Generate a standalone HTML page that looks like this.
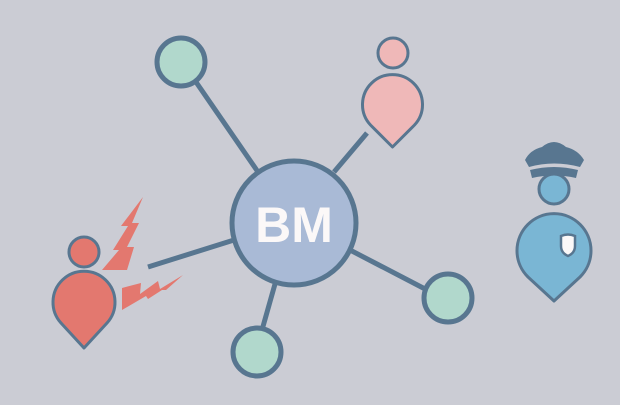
<!DOCTYPE html>
<html><head><style>html,body{margin:0;padding:0;background:#cbccd4;}svg{display:block}</style></head>
<body>
<svg width="620" height="405" viewBox="0 0 620 405" xmlns="http://www.w3.org/2000/svg">
<rect width="620" height="405" fill="#cbccd4"/>
<g stroke="#587690" stroke-width="5" stroke-linecap="butt">
<line x1="196" y1="82" x2="258" y2="172"/>
<line x1="334" y1="172" x2="367" y2="133"/>
<line x1="350" y1="250" x2="427" y2="290"/>
<line x1="275" y1="284" x2="262" y2="330"/>
<line x1="148" y1="267" x2="234" y2="240"/>
</g>
<g stroke="#587690" stroke-width="5" fill="#b1d8cc">
<circle cx="181" cy="62" r="24"/>
<circle cx="448" cy="298" r="24"/>
<circle cx="257" cy="352" r="24"/>
</g>
<circle cx="294" cy="223" r="62" fill="#a9bad6" stroke="#587690" stroke-width="5"/>
<text x="294" y="242" text-anchor="middle" font-family="Liberation Sans, sans-serif" font-weight="bold" font-size="50" fill="#fbf8f8">BM</text>
<g stroke="#587690" stroke-width="3" fill="#efb8b8" stroke-linejoin="round">
<circle cx="393" cy="53" r="15"/>
<path d="M392.5 147 L370.5 125 A30 30 0 1 1 414.5 125 Z"/>
</g>
<g stroke="#587690" stroke-width="3" fill="#e3786f" stroke-linejoin="round">
<circle cx="84" cy="252" r="15"/>
<path d="M84 348 L61 323 A31 31 0 1 1 107 323 Z"/>
</g>
<g fill="#e3786f">
<polygon points="143,197 121,226 128,226 113,250 119,250 102,270 127,270 134,247 127,247 139,223 132,223"/>
<polygon points="122,288 141,283 140,294 158,281 160,289 183,275 166,290 162,290 148,299 146,296 122,310"/>
</g>
<g stroke="#587690" stroke-width="3" fill="#7ab6d4" stroke-linejoin="round">
<circle cx="554" cy="189" r="15"/>
<path d="M554 301 L528 277 A37 37 0 1 1 580 277 Z"/>
</g>
<path d="M525 160 Q530 150 542 147 Q548 142 554 142 Q560 142 566 147 Q578 150 584 160 L580 167 Q554 160 529 167 Z" fill="#587690"/>
<path d="M530 170 Q554 164 578 170 L576 178 Q554 173 532 178 Z" fill="#587690"/>
<path d="M561 236 Q568 233 575 236 L575 246 Q575 253 568 256 Q561 253 561 246 Z" fill="#fbf8f8" stroke="#587690" stroke-width="2.5"/>
</svg>
</body></html>
